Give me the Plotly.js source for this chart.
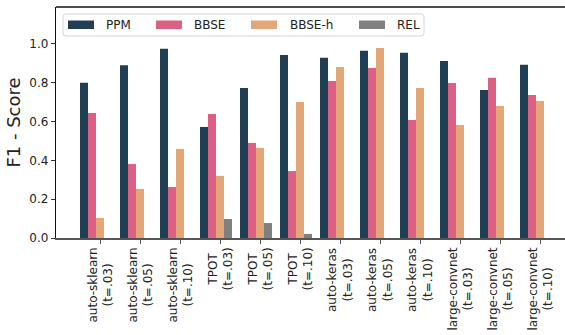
<!DOCTYPE html>
<html>
<head>
<meta charset="utf-8">
<script src="https://cdn.plot.ly/plotly-3.0.1.min.js"></script>
<style>
html,body{margin:0;padding:0;overflow:hidden;background:#fff;width:565px;height:335px;}
#chart{width:600px;height:335px;}
</style>
</head>
<body>
<div id="chart"></div>
<script>
const categories = [
  'auto-sklearn<br>(t=.03)', 'auto-sklearn<br>(t=.05)', 'auto-sklearn<br>(t=.10)',
  'TPOT<br>(t=.03)', 'TPOT<br>(t=.05)', 'TPOT<br>(t=.10)',
  'auto-keras<br>(t=.03)', 'auto-keras<br>(t=.05)', 'auto-keras<br>(t=.10)',
  'large-convnet<br>(t=.03)', 'large-convnet<br>(t=.05)', 'large-convnet<br>(t=.10)'
];
const seriesNames = ['PPM', 'BBSE', 'BBSE-h', 'REL'];
const ppm   = [0.80, 0.89, 0.975, 0.572, 0.773, 0.943, 0.928, 0.964, 0.954, 0.912, 0.763, 0.892];
const bbse  = [0.644, 0.381, 0.263, 0.639, 0.490, 0.345, 0.809, 0.876, 0.608, 0.799, 0.825, 0.737];
const bbseh = [0.103, 0.253, 0.459, 0.320, 0.464, 0.701, 0.881, 0.979, 0.773, 0.582, 0.680, 0.706];
const rel   = [null, null, null, 0.098, 0.077, 0.021, null, null, null, null, null, null];
const yTicks = [0, 0.2, 0.4, 0.6, 0.8, 1.0];
const yTickText = ['0.0', '0.2', '0.4', '0.6', '0.8', '1.0'];

const colors = ['#203f54', '#dc6083', '#e2a677', '#808080'];
const values = [ppm, bbse, bbseh, rel];
const offsets = [-0.5, -0.3, -0.1, 0.1];

const traces = values.map((v, k) => ({
  type: 'bar',
  name: seriesNames[k],
  x: categories,
  y: v,
  width: 0.2,
  offset: offsets[k],
  marker: {color: colors[k], line: {width: 0}},
  showlegend: false,
  hoverinfo: 'x+y+name'
}));

// plot area geometry in pixels (for the hand-made legend)
const L = 56, T = 7, W = 519, H = 231;
const px = p => (p - L) / W;
const py = p => (T + H - p) / H;

function roundRect(x0, y0, x1, y1, r) {
  const rx = r / W, ry = r / H;
  const X0 = px(x0), X1 = px(x1), Y0 = py(y0), Y1 = py(y1);
  return `M ${X0+rx},${Y0} L ${X1-rx},${Y0} Q ${X1},${Y0} ${X1},${Y0-ry} ` +
         `L ${X1},${Y1+ry} Q ${X1},${Y1} ${X1-rx},${Y1} L ${X0+rx},${Y1} ` +
         `Q ${X0},${Y1} ${X0},${Y1+ry} L ${X0},${Y0-ry} Q ${X0},${Y0} ${X0+rx},${Y0} Z`;
}

const swatchX = [68, 156, 251, 359];
const textX = [104, 192, 288, 395];
const shapes = [
  {type: 'path', xref: 'paper', yref: 'paper', path: roundRect(63, 14, 424, 36, 3),
   line: {color: '#d6d6d6', width: 1}, fillcolor: 'rgba(255,255,255,0.85)', layer: 'above'},
  {type: 'line', xref: 'paper', yref: 'paper', x0: 0, x1: 1, y0: 1, y1: 1,
   line: {color: '#111', width: 1.5}}
];
const annotations = [];
seriesNames.forEach((n, k) => {
  shapes.push({type: 'rect', xref: 'paper', yref: 'paper',
    x0: px(swatchX[k]), x1: px(swatchX[k] + 26), y0: py(20.5), y1: py(29),
    line: {width: 0}, fillcolor: colors[k], layer: 'above'});
  annotations.push({xref: 'paper', yref: 'paper', x: px(textX[k]), y: py(25),
    xanchor: 'left', yanchor: 'middle', text: n, showarrow: false,
    font: {family: 'DejaVu Sans', size: 12, color: '#222'}});
});
// x tick labels: rotated, lines centred on each other
categories.forEach(c => {
  annotations.push({xref: 'x', yref: 'paper', x: c, y: 0, yshift: -8,
    xanchor: 'center', yanchor: 'top', textangle: -90, align: 'center',
    text: c, showarrow: false,
    font: {family: 'DejaVu Sans', size: 12, color: '#222'}});
});

const layout = {
  width: 600, height: 335,
  margin: {l: L, r: 600 - L - W, t: T, b: 335 - T - H, pad: 0},
  paper_bgcolor: '#fff', plot_bgcolor: '#fff',
  font: {family: 'DejaVu Sans', size: 12, color: '#222'},
  barmode: 'overlay',
  xaxis: {
    type: 'category',
    range: [-1.1, 11.875],
    showticklabels: false,
    showgrid: false, zeroline: false,
    showline: true, linecolor: '#555', linewidth: 1.5,
    ticks: 'outside', ticklen: 4, tickcolor: '#555', tickwidth: 1
  },
  yaxis: {
    range: [0, 1.19],
    tickvals: yTicks, ticktext: yTickText,
    showgrid: false, zeroline: false,
    showline: true, linecolor: '#111', linewidth: 1.2,
    ticks: 'outside', ticklen: 4, tickcolor: '#333', tickwidth: 1,
    tickfont: {family: 'DejaVu Sans', size: 12, color: '#222'},
    title: {text: 'F1 - Score', font: {family: 'DejaVu Sans', size: 18, color: '#222'}, standoff: 4}
  },
  shapes: shapes,
  annotations: annotations,
  showlegend: false
};

Plotly.newPlot('chart', traces, layout, {displayModeBar: false, staticPlot: true});
</script>
</body>
</html>
